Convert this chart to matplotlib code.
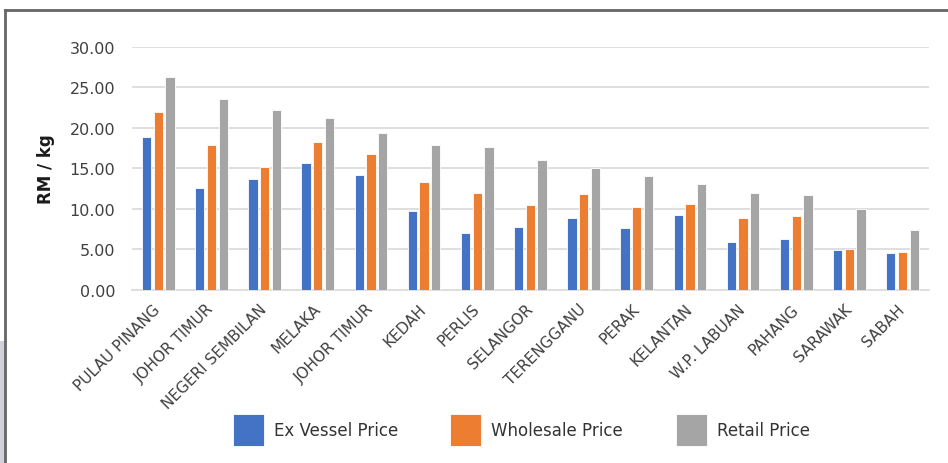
import numpy as np
import matplotlib.pyplot as plt
from matplotlib.lines import Line2D
from matplotlib.patches import Rectangle

plt.rcParams['font.family'] = ['DejaVu Sans']

states = ['PULAU PINANG', 'JOHOR TIMUR', 'NEGERI SEMBILAN', 'MELAKA', 'JOHOR TIMUR',
          'KEDAH', 'PERLIS', 'SELANGOR', 'TERENGGANU', 'PERAK', 'KELANTAN',
          'W.P. LABUAN', 'PAHANG', 'SARAWAK', 'SABAH']
ex_vessel = [18.9, 12.5, 13.7, 15.6, 14.1, 9.7, 6.95, 7.7, 8.8, 7.6, 9.2, 5.9, 6.25, 4.95, 4.5]
wholesale = [21.9, 17.9, 15.2, 18.2, 16.7, 13.25, 11.9, 10.4, 11.85, 10.2, 10.6, 8.9, 9.1, 5.0, 4.6]
retail = [26.2, 23.5, 22.2, 21.2, 19.3, 17.9, 17.6, 16.05, 15.0, 14.0, 13.0, 11.9, 11.65, 9.95, 7.4]
series_names = ['Ex Vessel Price', 'Wholesale Price', 'Retail Price']
colors = ['#4472C4', '#ED7D31', '#A5A5A5']
yticks = [0, 5, 10, 15, 20, 25, 30]

fig = plt.figure(figsize=(9.48, 4.64), dpi=100)
ax = fig.add_axes([0.139, 0.3735, 0.841, 0.5237])

x = np.arange(len(states))
width = 0.175
step = 0.22
bars = []
for i, (vals, name, col) in enumerate(zip([ex_vessel, wholesale, retail], series_names, colors)):
    b = ax.bar(x + (i - 1) * step, vals, width, color=col, edgecolor='white',
               linewidth=0.6, label=name, zorder=3)
    bars.append(b)

ax.set_xlim(-0.5, len(states) - 0.5)
ax.set_ylim(0, 30)
ax.set_yticks(yticks)
ax.set_yticklabels([f'{v:.2f}' for v in yticks], fontsize=11.5, color='#404040')
ax.yaxis.grid(True, color='#DCDCDC', linewidth=1.3, zorder=0)
ax.set_axisbelow(True)
ax.tick_params(axis='both', length=0)
ax.tick_params(axis='y', pad=12)
ax.set_xticks(x)
ax.set_xticklabels(states, rotation=45, ha='right', va='center', rotation_mode='anchor',
                   fontsize=11, color='#404040')
ax.tick_params(axis='x', pad=12)
for s in ['top', 'right', 'left']:
    ax.spines[s].set_visible(False)
ax.spines['bottom'].set_color('#DCDCDC')
ax.spines['bottom'].set_linewidth(1.3)

ax.set_ylabel('RM / kg', fontsize=12, fontweight='bold', color='#1a1a1a', labelpad=10)

fig.legend(handles=bars, labels=series_names, loc='center', ncol=3,
           bbox_to_anchor=(0.5496, 0.071), frameon=False, prop={'size': 12},
           handlelength=1.86, handleheight=2.6, handletextpad=0.6,
           columnspacing=3.15, labelcolor='#333333')

# outer frame and the grey strip at the lower left
fig.add_artist(Rectangle((0, 0), 4.5 / 948, 1 - 342 / 464, transform=fig.transFigure,
                         facecolor='#D0D1DB', edgecolor='none'))
fig.add_artist(Line2D([4.5 / 948, 1], [1 - 10.7 / 464, 1 - 10.7 / 464],
                      transform=fig.transFigure, color='#666666', linewidth=2))
fig.add_artist(Line2D([4.5 / 948, 4.5 / 948], [0, 1 - 10.7 / 464],
                      transform=fig.transFigure, color='#666666', linewidth=2))

fig.savefig('out.png', dpi=100)
